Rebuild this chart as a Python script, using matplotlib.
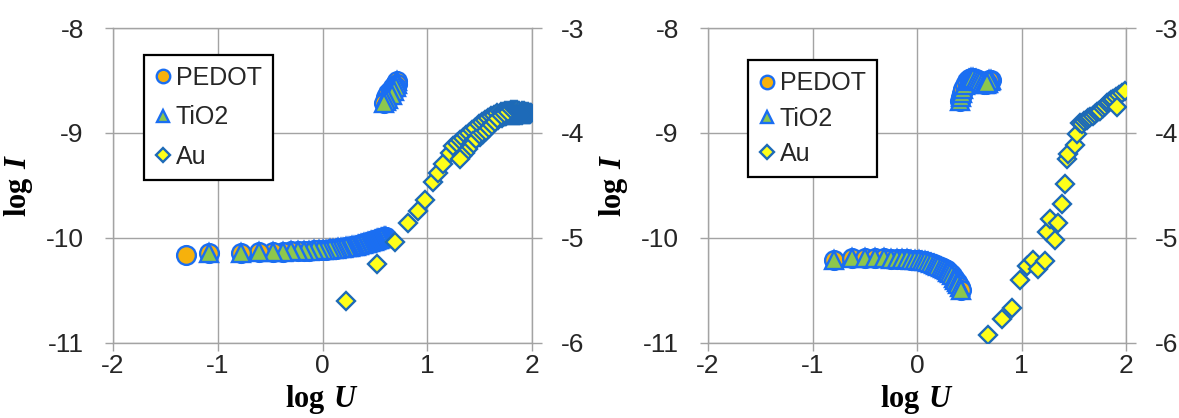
import matplotlib
matplotlib.use("Agg")
import matplotlib.pyplot as plt

plt.rcParams["font.family"] = ["Liberation Sans", "DejaVu Sans"]
plt.rcParams["axes.unicode_minus"] = False
plt.rcParams["mathtext.fontset"] = "custom"
plt.rcParams["mathtext.rm"] = "Liberation Serif"
plt.rcParams["mathtext.bf"] = "Liberation Serif:bold"
plt.rcParams["mathtext.bfit"] = "Liberation Serif:italic:bold"

# ---------------- data: log U (x) vs log I ----------------
# Left sample: PEDOT / TiO2 on the left axis, Au on the right axis
tio2_left_x = [0.61, 0.63, 0.65, 0.67, 0.69, 0.70, 0.71, 0.71, 0.70, 0.68,
               0.66, 0.63, 0.61, 0.59,
               0.602, 0.593, 0.584, 0.574, 0.564, 0.554, 0.544, 0.534, 0.523, 0.511,
               0.500, 0.489, 0.477, 0.465, 0.452, 0.439, 0.426, 0.412, 0.398, 0.383,
               0.368, 0.352, 0.336, 0.319, 0.301, 0.283, 0.263, 0.243, 0.222, 0.200,
               0.176, 0.151, 0.125, 0.097, 0.067, 0.035, 0.000, -0.038, -0.079, -0.125,
               -0.176, -0.234, -0.301, -0.380, -0.477, -0.602, -0.778, -1.079]
tio2_left_y = [-8.66, -8.62, -8.59, -8.56, -8.54, -8.52, -8.51, -8.53, -8.56, -8.60,
               -8.64, -8.68, -8.70, -8.72,
               -9.99, -9.99, -9.99, -10.00, -10.00, -10.00, -10.01, -10.01, -10.01, -10.02,
               -10.02, -10.03, -10.03, -10.03, -10.04, -10.04, -10.05, -10.05, -10.05, -10.06,
               -10.06, -10.07, -10.07, -10.08, -10.08, -10.08, -10.09, -10.09, -10.09, -10.10,
               -10.10, -10.10, -10.11, -10.11, -10.11, -10.12, -10.12, -10.12, -10.12, -10.13,
               -10.13, -10.13, -10.13, -10.14, -10.14, -10.14, -10.15, -10.15]
pedot_left_x = tio2_left_x + [-1.30]
pedot_left_y = tio2_left_y + [-10.17]

au_left_x = [0.225, 0.525, 0.693, 0.815, 0.916, 0.98, 1.053, 1.107, 1.155, 1.219,
             1.25, 1.28, 1.31, 1.34, 1.37, 1.40, 1.43, 1.46, 1.49, 1.52,
             1.55, 1.58, 1.61, 1.64, 1.67, 1.70, 1.72, 1.74, 1.76, 1.78,
             1.80, 1.82, 1.84, 1.86, 1.88, 1.90, 1.92, 1.94, 1.96, 1.98, 1.99,
             1.98, 1.97, 1.96, 1.95, 1.94, 1.93, 1.92, 1.91, 1.90, 1.89,
             1.88, 1.87, 1.86, 1.85, 1.84, 1.83, 1.82, 1.81, 1.80, 1.79,
             1.78, 1.77, 1.76, 1.75, 1.74, 1.73, 1.71, 1.68, 1.65, 1.62,
             1.59, 1.56, 1.53, 1.50, 1.47, 1.44, 1.42, 1.39, 1.36, 1.33, 1.31]
au_left_y = [-5.60, -5.255, -5.04, -4.86, -4.75, -4.64, -4.47, -4.38, -4.30, -4.19,
             -4.13, -4.10, -4.07, -4.05, -4.02, -4.00, -3.97, -3.95, -3.92, -3.90,
             -3.88, -3.86, -3.84, -3.83, -3.81, -3.80, -3.80, -3.79, -3.79, -3.79,
             -3.78, -3.78, -3.78, -3.78, -3.79, -3.79, -3.79, -3.80, -3.80, -3.81, -3.81,
             -3.82, -3.82, -3.82, -3.82, -3.82, -3.82, -3.82, -3.82, -3.83, -3.83,
             -3.83, -3.83, -3.83, -3.83, -3.83, -3.83, -3.83, -3.83, -3.83, -3.83,
             -3.83, -3.83, -3.83, -3.84, -3.84, -3.84, -3.86, -3.88, -3.90, -3.92,
             -3.95, -3.98, -4.01, -4.04, -4.06, -4.08, -4.11, -4.15, -4.19, -4.22, -4.25]

# Right sample
tio2_right_x = [-0.796, -0.620, -0.495, -0.398, -0.319, -0.252, -0.194, -0.143, -0.097, -0.056,
                -0.018, 0.017, 0.049, 0.079, 0.107, 0.134, 0.158, 0.182, 0.204, 0.225,
                0.246, 0.265, 0.283, 0.301, 0.318, 0.334, 0.350, 0.365, 0.380, 0.394,
                0.408, 0.422,
                0.41, 0.42, 0.43, 0.44, 0.46, 0.48, 0.50, 0.52, 0.54, 0.56,
                0.58, 0.60, 0.62, 0.64, 0.66, 0.68, 0.70, 0.71, 0.69, 0.67]
tio2_right_y = [-10.21, -10.19, -10.19, -10.19, -10.19, -10.20, -10.20, -10.20, -10.20, -10.21,
                -10.21, -10.21, -10.22, -10.22, -10.23, -10.24, -10.25, -10.26, -10.27, -10.28,
                -10.29, -10.30, -10.31, -10.33, -10.34, -10.36, -10.38, -10.40, -10.42, -10.44,
                -10.47, -10.50,
                -8.70, -8.66, -8.62, -8.58, -8.54, -8.51, -8.49, -8.48, -8.48, -8.49,
                -8.50, -8.51, -8.52, -8.53, -8.53, -8.52, -8.51, -8.50, -8.50, -8.52]
pedot_right_x = list(tio2_right_x)
pedot_right_y = list(tio2_right_y)

au_right_x = [0.682, 0.810, 0.906, 0.986, 1.050, 1.113, 1.161, 1.225, 1.241, 1.273,
              1.321, 1.353, 1.385, 1.418, 1.433, 1.449, 1.513, 1.529, 1.561, 1.58,
              1.60, 1.625, 1.64, 1.66, 1.688, 1.70, 1.72, 1.74, 1.752, 1.78,
              1.80, 1.816, 1.84, 1.86, 1.879, 1.90, 1.93, 1.96, 1.911, 1.991]
au_right_y = [-5.926, -5.78, -5.67, -5.40, -5.27, -5.21, -5.30, -5.22, -4.95, -4.82,
              -5.02, -4.86, -4.68, -4.49, -4.25, -4.20, -4.12, -4.01, -3.91, -3.92,
              -3.89, -3.88, -3.86, -3.85, -3.84, -3.82, -3.80, -3.79, -3.79, -3.76,
              -3.74, -3.72, -3.71, -3.69, -3.68, -3.66, -3.64, -3.62, -3.755, -3.60]

series_labels = ["PEDOT", "TiO2", "Au"]
x_ticks = [-2, -1, 0, 1, 2]
left_ticks = [-11, -10, -9, -8]
right_ticks = [-6, -5, -4, -3]

# ---------------- styling ----------------
GRID = "#a3a3a3"
EDGE = "#1a6ef2"
AU_EDGE = "#1d6ab8"
PEDOT_FACE = "#f6b10c"
TIO2_FACE = "#8dc74c"
AU_FACE = "#ffff1a"
TICK_FS = 19
TXT = "#262626"

fig = plt.figure(figsize=(11.79, 4.18), dpi=100)
fig.patch.set_facecolor("white")

W, H = 1179.0, 418.0
panels = [
    dict(x0=113, x1=532, pedot=(pedot_left_x, pedot_left_y), tio2=(tio2_left_x, tio2_left_y),
         au=(au_left_x, au_left_y), leg=(0.074, 0.915), legspace=0.62),
    dict(x0=708, x1=1126, pedot=(pedot_right_x, pedot_right_y), tio2=(tio2_right_x, tio2_right_y),
         au=(au_right_x, au_right_y), leg=(0.096, 0.898), legspace=0.45),
]
y_top, y_bot = 28.0, 342.5

for p in panels:
    ax = fig.add_axes([p["x0"] / W, 1 - y_bot / H, (p["x1"] - p["x0"]) / W, (y_bot - y_top) / H])
    ax.set_xlim(-2, 2)
    ax.set_ylim(-11, -8)
    ax.set_xticks(x_ticks)
    ax.set_yticks(left_ticks)
    ax.grid(True, color=GRID, linewidth=1.0)
    ax.set_axisbelow(True)
    for s in ax.spines.values():
        s.set_color(GRID)
        s.set_linewidth(1.0)
    ax.tick_params(axis="y", direction="out", length=6, width=1, color=GRID,
                   pad=15, labelsize=TICK_FS, labelcolor=TXT)
    ax.tick_params(axis="x", direction="out", length=6, width=1, color=GRID,
                   pad=2, labelsize=TICK_FS, labelcolor=TXT)

    h1, = ax.plot(*p["pedot"], linestyle="none", marker="o", markersize=13.5,
                  markerfacecolor=PEDOT_FACE, markeredgecolor=EDGE, markeredgewidth=1.7,
                  zorder=3, label=series_labels[0])
    h2, = ax.plot(*p["tio2"], linestyle="none", marker="^", markersize=12.5,
                  markerfacecolor=TIO2_FACE, markeredgecolor=EDGE, markeredgewidth=1.7,
                  zorder=4, label=series_labels[1])

    tw = ax.twinx()
    tw.set_ylim(-6, -3)
    tw.set_yticks(right_ticks)
    for s in tw.spines.values():
        s.set_visible(False)
    tw.tick_params(axis="y", direction="out", length=7, width=1, color=GRID,
                   pad=14, labelsize=TICK_FS, labelcolor=TXT)
    h3, = tw.plot(*p["au"], linestyle="none", marker="D", markersize=9.5,
                  markerfacecolor=AU_FACE, markeredgecolor=AU_EDGE, markeredgewidth=1.7,
                  zorder=5, label=series_labels[2])

    leg = ax.legend([h1, h2, h3], series_labels, loc="upper left", bbox_to_anchor=p["leg"],
                    borderaxespad=0, frameon=True, fancybox=False, framealpha=1,
                    edgecolor="black", fontsize=18, markerscale=0.72, handlelength=0.6,
                    handletextpad=0.22, labelspacing=p["legspace"], borderpad=0.45)
    leg.get_frame().set_linewidth(1.6)
    for t in leg.get_texts():
        t.set_color(TXT)

    ax.set_ylabel(r"$\mathbf{log}\ \mathbfit{I}$", fontsize=22)
    ax.yaxis.set_label_coords(-0.225, 0.5)
    ax.yaxis.label.set_va("center")
    ax.set_xlabel(r"$\mathbf{log}\ \mathbfit{U}$", fontsize=22)
    ax.xaxis.set_label_coords(0.5, -0.205)
    ax.xaxis.label.set_va("baseline")

fig.savefig("out.png", dpi=100, facecolor="white")
